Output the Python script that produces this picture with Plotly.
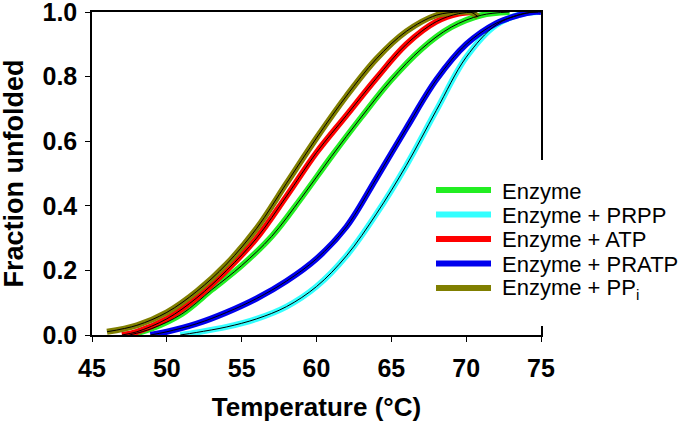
import plotly.graph_objects as go

# Temperature (°C) and fraction unfolded
t_enzyme = [47.5, 49.0, 51.0, 53.0, 55.0, 57.0, 59.0, 61.0, 63.0, 65.0, 67.0, 69.0, 71.0, 72.9]
f_enzyme = [0.0, 0.02, 0.065, 0.14, 0.215, 0.305, 0.425, 0.553, 0.675, 0.79, 0.885, 0.953, 0.99, 1.0]

t_prpp = [50.9, 52.0, 54.0, 56.0, 58.0, 60.0, 62.0, 64.0, 66.0, 68.0, 70.0, 72.0, 73.8, 74.8]
f_prpp = [0.0, 0.008, 0.025, 0.05, 0.088, 0.15, 0.245, 0.375, 0.525, 0.695, 0.86, 0.96, 0.995, 1.0]

t_atp = [47.0, 48.0, 50.0, 52.0, 54.0, 56.0, 58.0, 60.0, 62.0, 64.0, 66.0, 68.0, 69.5, 70.7]
f_atp = [0.0, 0.01, 0.05, 0.115, 0.2, 0.3, 0.43, 0.565, 0.68, 0.795, 0.9, 0.97, 0.995, 1.0]

t_pratp = [48.9, 50.0, 52.0, 54.0, 56.0, 58.0, 60.0, 62.0, 64.0, 66.0, 68.0, 70.0, 72.0, 73.5, 74.5, 75.0]
f_pratp = [0.0, 0.01, 0.035, 0.07, 0.113, 0.167, 0.236, 0.335, 0.485, 0.64, 0.79, 0.9, 0.965, 0.99, 1.0, 1.0]

t_ppi = [46.0, 48.0, 50.0, 52.0, 54.0, 56.0, 58.0, 60.0, 62.0, 64.0, 66.0, 68.0, 69.5, 70.3, 70.8]
f_ppi = [0.01, 0.03, 0.07, 0.135, 0.22, 0.33, 0.47, 0.61, 0.74, 0.855, 0.94, 0.99, 1.0, 1.0, 0.985]

names = ["Enzyme", "Enzyme + PRPP", "Enzyme + ATP", "Enzyme + PRATP", "Enzyme + PP<sub>i</sub>"]
colors = ["#22ee22", "#33ffff", "#ff0000", "#0000ee", "#807f00"]
temps = [t_enzyme, t_prpp, t_atp, t_pratp, t_ppi]
fracs = [f_enzyme, f_prpp, f_atp, f_pratp, f_ppi]

x_ticks = [45, 50, 55, 60, 65, 70, 75]
y_ticks = [0.0, 0.2, 0.4, 0.6, 0.8, 1.0]
x_title = "Temperature (°C)"
y_title = "Fraction unfolded"

# layout geometry (pixels)
W, H = 683, 424
L, R, T, B = 92, 142, 12, 89
PW, PH = W - L - R, H - T - B


def px2paper_x(px):
    return (px - L) / PW


def px2paper_y(py):
    return (H - B - py) / PH


fig = go.Figure()
for n, c, t, f in zip(names, colors, temps, fracs):
    fig.add_trace(go.Scatter(x=t, y=f, mode="lines", name=n, showlegend=False,
                             line=dict(color=c, width=6, shape="spline"), cliponaxis=False))
for t, f in zip(temps, fracs):
    fig.add_trace(go.Scatter(x=t, y=f, mode="lines", showlegend=False, hoverinfo="skip",
                             line=dict(color="black", width=1, shape="spline"), cliponaxis=False))

font_family = "Liberation Sans, Arial, sans-serif"

# legend (drawn as shapes + text so its spacing matches the original)
shapes = [dict(type="rect", xref="paper", yref="paper", layer="above",
               x0=px2paper_x(430), x1=px2paper_x(683), y0=px2paper_y(160), y1=px2paper_y(326),
               fillcolor="white", line=dict(width=0))]
annotations = []
leg_top, leg_step = 190, 24.5
for i, (n, c) in enumerate(zip(names, colors)):
    cy = leg_top + i * leg_step
    shapes.append(dict(type="line", xref="paper", yref="paper", layer="above",
                       x0=px2paper_x(436), x1=px2paper_x(491), y0=px2paper_y(cy), y1=px2paper_y(cy),
                       line=dict(color=c, width=6)))
    annotations.append(dict(xref="paper", yref="paper", x=px2paper_x(500), y=px2paper_y(cy + 1),
                            xanchor="left", yanchor="middle", text=n, showarrow=False,
                            font=dict(size=22, family=font_family, color="black")))

# y-axis title placed as rotated text at the original's position
annotations.append(dict(xref="paper", yref="paper", x=px2paper_x(13), y=0.5,
                        xanchor="center", yanchor="middle", textangle=-90,
                        text=f"<b>{y_title}</b>", showarrow=False,
                        font=dict(size=27, family=font_family, color="black")))

fig.update_layout(
    width=W, height=H,
    margin=dict(l=L, r=R, t=T, b=B),
    paper_bgcolor="white", plot_bgcolor="white",
    font=dict(family=font_family, color="black"),
    showlegend=False,
    shapes=shapes, annotations=annotations,
    xaxis=dict(range=[45, 75], tickvals=x_ticks, ticktext=[str(v) for v in x_ticks],
               showline=True, linecolor="black", linewidth=1.5, mirror=True, automargin=False,
               ticks="outside", ticklen=5, tickcolor="black", showgrid=False, zeroline=False,
               ticklabelstandoff=5, ticklabeloverflow="allow",
               tickfont=dict(size=25, family=font_family, weight="bold"),
               title=dict(text=f"<b>{x_title}</b>", font=dict(size=26), standoff=17)),
    yaxis=dict(range=[0, 1.0], tickvals=y_ticks, ticktext=[f"{v:.1f}" for v in y_ticks],
               showline=True, linecolor="black", linewidth=1.5, mirror=True, automargin=False,
               ticks="outside", ticklen=5, tickcolor="black", showgrid=False, zeroline=False,
               ticklabelstandoff=3, ticklabeloverflow="allow",
               tickfont=dict(size=25, family=font_family, weight="bold")),
)

fig.write_html("out.html", config={"displayModeBar": False},
               post_script="document.body.style.margin='0px';")
